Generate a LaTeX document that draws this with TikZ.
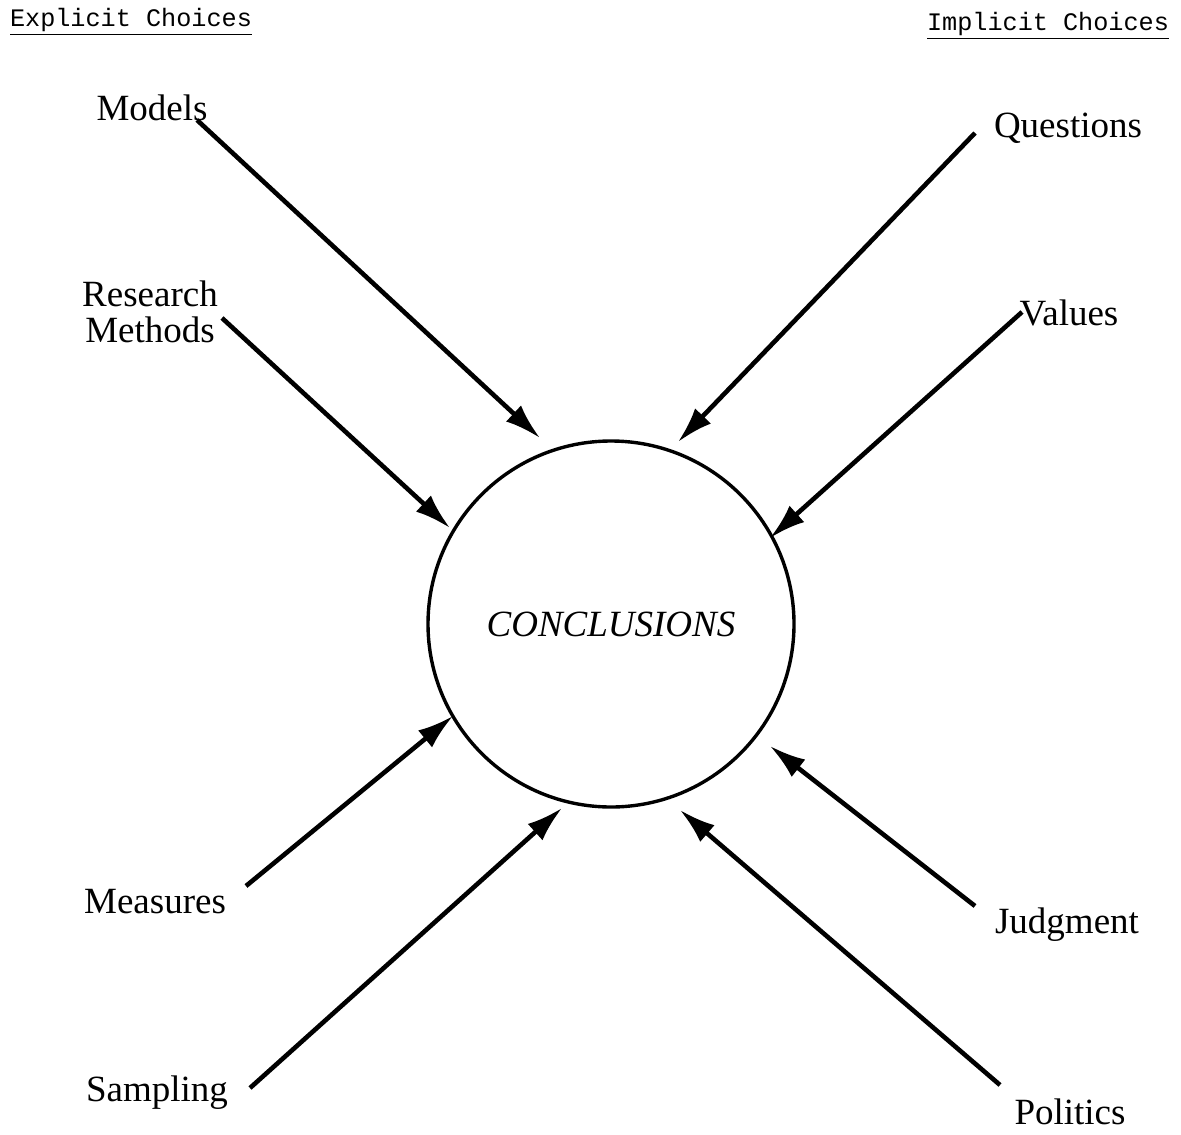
\documentclass[tikz,border=0pt]{standalone}
\usepackage{fontspec}
\setmainfont{Liberation Serif}
\newfontfamily\monof{Liberation Mono}
\usetikzlibrary{arrows.meta}
\begin{document}
\begin{tikzpicture}[x=0.5pt,y=-0.5pt,
  lbl/.style={font=\fontsize{18.5}{18}\selectfont, inner sep=0pt, align=center},
  hdr/.style={font=\monof\fontsize{12.6}{14}\selectfont, inner sep=0pt},
  arr/.style={line width=2.3pt, -{Latex[length=18pt,width=11pt]}},
  ring/.style={circle, draw, line width=1.7pt, minimum size=366*0.5pt, inner sep=0pt}]
\useasboundingbox (0,0) rectangle (1181,1134);
\node[hdr] (hl) at (131,22) {\underline{Explicit Choices}};
\node[hdr] (hr) at (1048,26) {\underline{Implicit Choices}};
\node[ring, font=\fontsize{18.5}{19}\selectfont\itshape] (c) at (611,624) {CONCLUSIONS};
\node[lbl] (models) at (152,108) {Models};
\node[lbl] (research) at (150,312) {Research\\Methods};
\node[lbl] (questions) at (1068,128) {Questions};
\node[lbl] (values) at (1069,313) {Values};
\node[lbl] (measures) at (155,902) {Measures};
\node[lbl] (sampling) at (157,1093) {Sampling};
\node[lbl] (judgment) at (1067,925) {Judgment};
\node[lbl] (politics) at (1070,1112) {Politics};
% arrow ends
\coordinate (sModels) at (197,120);    \coordinate (tModels) at (540,438);
\coordinate (sResearch) at (222,318);  \coordinate (tResearch) at (450,528);
\coordinate (sQuestions) at (975,133); \coordinate (tQuestions) at (678,442);
\coordinate (sValues) at (1022,312);   \coordinate (tValues) at (770,538);
\coordinate (sMeasures) at (246,886);  \coordinate (tMeasures) at (453,716);
\coordinate (sSampling) at (250,1088); \coordinate (tSampling) at (562,808);
\coordinate (sJudgment) at (975,906);  \coordinate (tJudgment) at (770,746);
\coordinate (sPolitics) at (1000,1085);\coordinate (tPolitics) at (680,810);
\draw[arr] (sModels) -- (tModels);
\draw[arr] (sResearch) -- (tResearch);
\draw[arr] (sQuestions) -- (tQuestions);
\draw[arr] (sValues) -- (tValues);
\draw[arr] (sMeasures) -- (tMeasures);
\draw[arr] (sSampling) -- (tSampling);
\draw[arr] (sJudgment) -- (tJudgment);
\draw[arr] (sPolitics) -- (tPolitics);
\end{tikzpicture}
\end{document}
